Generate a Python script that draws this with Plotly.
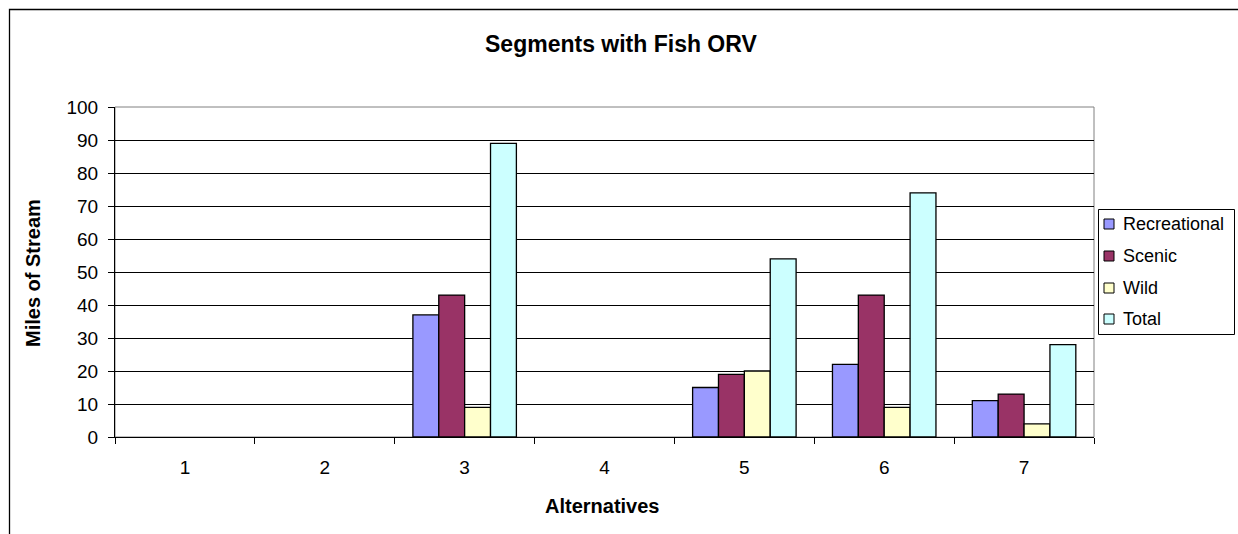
import plotly.graph_objects as go

categories = ["1", "2", "3", "4", "5", "6", "7"]
recreational = [0, 0, 37, 0, 15, 22, 11]
scenic = [0, 0, 43, 0, 19, 43, 13]
wild = [0, 0, 9, 0, 20, 9, 4]
total = [0, 0, 89, 0, 54, 74, 28]
y_ticks = [0, 10, 20, 30, 40, 50, 60, 70, 80, 90, 100]
series_names = ["Recreational", "Scenic", "Wild", "Total"]
series_colors = ["#9999FF", "#993366", "#FFFFCC", "#CCFFFF"]
series_values = [recreational, scenic, wild, total]

FONT = "Liberation Sans, Arial, sans-serif"

W, H = 1238, 534
L, R, T, B = 115, 1094, 107, 437

def px_x(p):
    return (p - L) / (R - L)

def px_y(p):
    return (B - p) / (B - T)

fig = go.Figure()
for name, vals, col in zip(series_names, series_values, series_colors):
    fig.add_trace(go.Bar(
        x=categories, y=vals, name=name,
        marker=dict(color=col,
                    line=dict(color="black", width=[1.3 if v else 0 for v in vals])),
    ))

fig.update_layout(
    width=W, height=H,
    margin=dict(l=L, r=W - R, t=T, b=H - B, autoexpand=False),
    paper_bgcolor="white", plot_bgcolor="white",
    barmode="group", bargap=0.26, bargroupgap=0,
    font=dict(family=FONT, size=19, color="black"),
    showlegend=False,
)

fig.update_xaxes(
    type="category", showgrid=False, showline=True, linecolor="black", linewidth=1,
    ticks="outside", ticklen=6, tickcolor="black", tickson="boundaries",
    ticklabelstandoff=13, tickfont=dict(size=19),
    range=[-0.5, 6.5],
)
fig.update_yaxes(
    range=[0, 100], tickvals=y_ticks, showgrid=True, gridcolor="black", gridwidth=1,
    showline=True, linecolor="black", linewidth=1, ticks="outside", ticklen=6,
    tickcolor="black", ticklabelstandoff=6, zeroline=False, tickfont=dict(size=19),
)

# chart title and axis titles
fig.add_annotation(text="<b>Segments with Fish ORV</b>", xref="paper", yref="paper",
                   x=px_x(621), y=px_y(44), showarrow=False, xanchor="center",
                   yanchor="middle", font=dict(size=23, family=FONT, color="black"))
fig.add_annotation(text="<b>Alternatives</b>", xref="paper", yref="paper",
                   x=px_x(602), y=px_y(506), showarrow=False, xanchor="center",
                   yanchor="middle", font=dict(size=20, family=FONT, color="black"))
fig.add_annotation(text="<b>Miles of Stream</b>", xref="paper", yref="paper",
                   x=px_x(33), y=px_y(273), showarrow=False, xanchor="center",
                   yanchor="middle", textangle=-90,
                   font=dict(size=20, family=FONT, color="black"))

# plot-area border (grey) and chart frame
fig.add_shape(type="rect", xref="paper", yref="paper", x0=0, x1=1, y0=0, y1=1,
              line=dict(color="#808080", width=1), layer="below")
fig.add_shape(type="path", xref="paper", yref="paper",
              path=f"M {px_x(9.5)} {px_y(560)} L {px_x(9.5)} {px_y(9.5)} L {px_x(1260)} {px_y(9.5)}",
              line=dict(color="black", width=1.3))

# legend (drawn manually to match the compact Excel legend)
fig.add_shape(type="rect", xref="paper", yref="paper",
              x0=px_x(1098.5), x1=px_x(1234.5), y0=px_y(209.5), y1=px_y(334.5),
              line=dict(color="black", width=1), fillcolor="white")
leg_y = [224, 256, 288, 319]
for name, col, yc in zip(series_names, series_colors, leg_y):
    fig.add_shape(type="rect", xref="paper", yref="paper",
                  x0=px_x(1104), x1=px_x(1114), y0=px_y(yc - 5), y1=px_y(yc + 5),
                  line=dict(color="black", width=1), fillcolor=col)
    fig.add_annotation(text=name, xref="paper", yref="paper", x=px_x(1121), y=px_y(yc),
                       showarrow=False, xanchor="left", yanchor="middle",
                       font=dict(size=18, family=FONT, color="black"))

fig.write_html("out.html", config={"displayModeBar": False})

with open("out.html", "r", encoding="utf-8") as f:
    html = f.read()
html = html.replace("<body>", '<body style="margin:0;padding:0;">', 1)
with open("out.html", "w", encoding="utf-8") as f:
    f.write(html)
